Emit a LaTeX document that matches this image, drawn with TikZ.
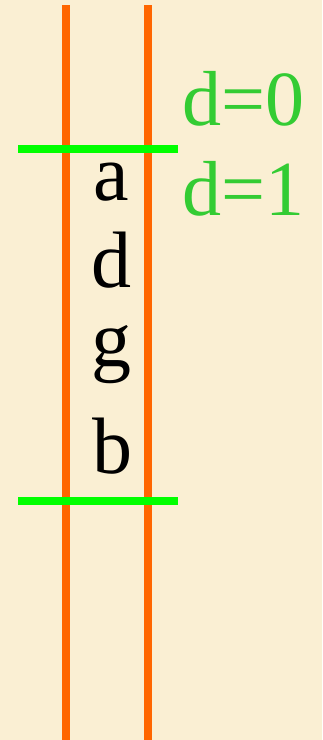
\documentclass[tikz,border=0pt]{standalone}
\usepackage{fontspec}
\setmainfont{Liberation Serif}
\definecolor{bgc}{HTML}{FAEFD3}
\definecolor{orng}{HTML}{FF6600}
\definecolor{lgreen}{HTML}{00FF00}
\definecolor{tgreen}{HTML}{33CC33}
\begin{document}
\begin{tikzpicture}[x=1pt,y=-1pt,
  vline/.style={draw=orng,line width=8pt},
  hline/.style={draw=lgreen,line width=8pt},
  letter/.style={anchor=base,inner sep=0pt,font=\fontsize{80}{80}\selectfont},
  dlabel/.style={anchor=base west,inner sep=0pt,text=tgreen,font=\fontsize{78}{78}\selectfont}]
\fill[bgc] (0,0) rectangle (322,740);
\useasboundingbox (0,0) rectangle (322,740);
\coordinate (l1t) at (66,5); \coordinate (l1b) at (66,740);
\coordinate (l2t) at (148,5); \coordinate (l2b) at (148,740);
\draw[vline] (l1t) -- (l1b);
\draw[vline] (l2t) -- (l2b);
\coordinate (h1l) at (18,149); \coordinate (h1r) at (178,149);
\coordinate (h2l) at (18,501); \coordinate (h2r) at (178,501);
\draw[hline] (h1l) -- (h1r);
\draw[hline] (h2l) -- (h2r);
\node[letter] (a) at (111,200) {a};
\node[letter] (d) at (111,287) {d};
\node[letter] (g) at (111,366) {g};
\node[letter] (b) at (112,473) {b};
\node[dlabel] (d0) at (182,125) {d=0};
\node[dlabel] (d1) at (182,215) {d=1};
\end{tikzpicture}
\end{document}
